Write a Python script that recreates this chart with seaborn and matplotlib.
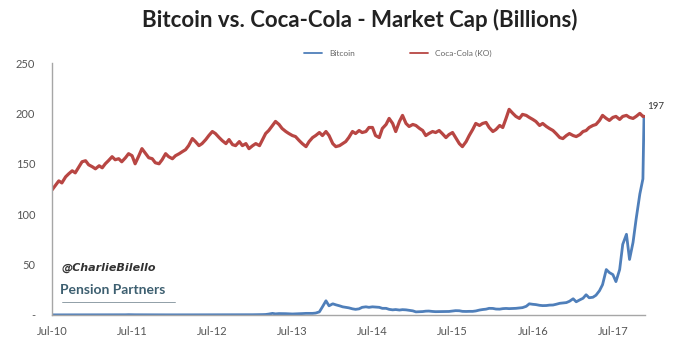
import pandas as pd
import seaborn as sns
import matplotlib.pyplot as plt

# Semi-monthly observations (1st and 15th), Jul 2010 -> Nov 2017, plus last print
inicio = '2010-07-01'
fim = '2017-11-15'
data_final = '2017-11-20'

# Coca-Cola (KO) market cap, billions
ko_valores = [
    124, 128, 133, 131, 137, 140, 143, 141, 147, 152, 153, 149,              # 2010
    147, 145, 148, 146, 150, 153, 157, 154, 155, 152, 156, 160,              # 2011 H1
    158, 150, 158, 165, 160, 156, 155, 151, 150, 154, 160, 157,              # 2011 H2
    155, 158, 160, 162, 164, 168, 175, 172, 168, 170, 174, 178,              # 2012 H1
    182, 180, 176, 173, 170, 174, 169, 168, 172, 168, 170, 165,              # 2012 H2
    168, 170, 168, 174, 180, 183, 188, 192, 189, 185, 182, 180,              # 2013 H1
    178, 177, 173, 170, 167, 172, 176, 178, 181, 178, 182, 178,              # 2013 H2
    170, 167, 168, 170, 172, 176, 182, 180, 183, 181, 182, 186,              # 2014 H1
    186, 178, 176, 185, 189, 195, 190, 182, 192, 198, 190, 187,              # 2014 H2
    189, 188, 185, 183, 178, 180, 182, 181, 183, 180, 176, 179,              # 2015 H1
    181, 176, 170, 167, 172, 178, 184, 190, 188, 190, 191, 186,              # 2015 H2
    182, 184, 188, 186, 195, 204, 200, 197, 195, 199, 198, 196,              # 2016 H1
    194, 192, 188, 190, 187, 185, 183, 180, 176, 175, 178, 180,              # 2016 H2
    178, 177, 179, 182, 183, 186, 188, 189, 193, 198, 195, 193,              # 2017 H1
    196, 197, 194, 197, 198, 196, 195, 197, 200, 197,                        # 2017 Jul-Nov
]
ko_ultimo = 197

# Bitcoin market cap, billions
btc_valores = [
    0.0, 0.0, 0.0, 0.0, 0.0, 0.0, 0.0, 0.0, 0.0, 0.0, 0.0, 0.0,              # 2010
    0.0, 0.0, 0.0, 0.01, 0.01, 0.01, 0.01, 0.03, 0.05, 0.06, 0.1, 0.2,       # 2011 H1
    0.1, 0.1, 0.08, 0.06, 0.04, 0.04, 0.03, 0.03, 0.03, 0.03, 0.03, 0.03,    # 2011 H2
    0.05, 0.05, 0.05, 0.05, 0.05, 0.05, 0.05, 0.05, 0.05, 0.05, 0.06, 0.06,  # 2012 H1
    0.08, 0.1, 0.12, 0.1, 0.1, 0.11, 0.11, 0.11, 0.11, 0.12, 0.13, 0.13,     # 2012 H2
    0.15, 0.17, 0.2, 0.3, 0.4, 0.8, 1.5, 1.0, 1.3, 1.3, 1.2, 1.1,            # 2013 H1
    0.9, 1.0, 1.2, 1.3, 1.5, 1.5, 1.5, 1.8, 3.0, 8.0, 14.0, 9.0,             # 2013 H2
    11.0, 10.0, 9.0, 8.0, 7.5, 7.0, 6.0, 5.5, 6.0, 7.5, 8.0, 7.5,            # 2014 H1
    8.0, 7.8, 7.5, 6.5, 6.5, 5.5, 5.0, 5.3, 4.8, 5.2, 5.0, 4.5,              # 2014 H2
    4.0, 3.0, 3.2, 3.3, 3.7, 3.8, 3.4, 3.2, 3.3, 3.3, 3.3, 3.4,              # 2015 H1
    3.8, 4.2, 4.1, 3.5, 3.4, 3.5, 3.5, 3.9, 4.8, 5.3, 5.7, 6.5,              # 2015 H2
    6.4, 5.8, 5.7, 6.2, 6.4, 6.2, 6.4, 6.5, 6.9, 7.2, 8.5, 11.0,             # 2016 H1
    10.5, 10.2, 9.5, 9.2, 9.3, 9.7, 9.8, 10.5, 11.5, 11.8, 12.2, 13.5,       # 2016 H2
    16.0, 13.0, 15.0, 16.5, 20.0, 17.0, 17.5, 19.5, 24.0, 30.0, 45.0, 42.0,  # 2017 H1
    40.0, 33.0, 45.0, 70.0, 80.0, 55.0, 72.0, 95.0, 120.0, 135.0,            # 2017 Jul-Nov
]
btc_ultimo = 197

anos = ['10', '11', '12', '13', '14', '15', '16', '17']

datas = list(pd.date_range(inicio, fim, freq='SMS')) + [pd.Timestamp(data_final)]
df_ko = pd.DataFrame({'data': datas, 'valor': ko_valores + [ko_ultimo]})
df_btc = pd.DataFrame({'data': datas, 'valor': btc_valores + [btc_ultimo]})

sns.set_style('white')
plt.rcParams['font.family'] = ['Lato', 'DejaVu Sans']

fig = plt.figure(figsize=(6.87, 3.55), dpi=100)
ax = fig.add_axes([0.0757, 0.113, 0.863, 0.7095])

cor_ko = '#b84643'
cor_btc = '#4f7fba'
sns.lineplot(data=df_btc, x='data', y='valor', ax=ax, color=cor_btc, linewidth=2.0, label='Bitcoin')
sns.lineplot(data=df_ko, x='data', y='valor', ax=ax, color=cor_ko, linewidth=2.3, label='Coca-Cola (KO)')

ax.set_xlim(pd.Timestamp('2010-07-01'), pd.Timestamp('2017-11-24'))
ax.set_ylim(0, 250)
ax.set_xlabel('')
ax.set_ylabel('')

# Eixos no estilo Excel
ax.set_yticks([0, 50, 100, 150, 200, 250])
ax.set_yticklabels(['-', '50', '100', '150', '200', '250'])
ax.set_xticks([pd.Timestamp('20' + a + '-07-01') for a in anos])
ax.set_xticklabels(['Jul-' + a for a in anos])
ax.tick_params(axis='y', direction='out', length=4, width=0.8, color='#a6a6a6',
               labelsize=8, labelcolor='#555555', pad=8)
ax.tick_params(axis='x', direction='in', length=3, width=0.8, color='#a6a6a6',
               labelsize=8, labelcolor='#555555', pad=8)
sns.despine(ax=ax)
for lado in ['left', 'bottom']:
    ax.spines[lado].set_color('#a6a6a6')
    ax.spines[lado].set_linewidth(1.0)

leg = ax.legend(loc='lower center', bbox_to_anchor=(0.583, 1.0), ncol=2, frameon=False,
                fontsize=6, handlelength=2.2, columnspacing=6.6, borderaxespad=0.3)
for t in leg.get_texts():
    t.set_color('#666666')
for h in leg.get_lines():
    h.set_linewidth(1.3)

fig.text(0.524, 0.944, 'Bitcoin vs. Coca-Cola - Market Cap (Billions)', ha='center', va='center',
         fontsize=16, fontweight='bold', color='#222222')

ax.annotate('197', xy=(pd.Timestamp(data_final), btc_ultimo), xytext=(2, 7),
            textcoords='offset points', fontsize=7, color='#333333', va='center')

# Marca d'água
fig.text(0.09, 0.245, '@CharlieBilello', fontsize=8, fontweight='bold', style='italic',
         color='#333333', va='center', family='DejaVu Sans')
fig.text(0.087, 0.183, 'Pension Partners', fontsize=10, fontweight='bold', color='#3d5f70',
         va='center')
fig.add_artist(plt.Line2D([0.09, 0.255], [0.150, 0.150], color='#7f8f99', linewidth=0.6))

plt.savefig('out.png', dpi=100)
